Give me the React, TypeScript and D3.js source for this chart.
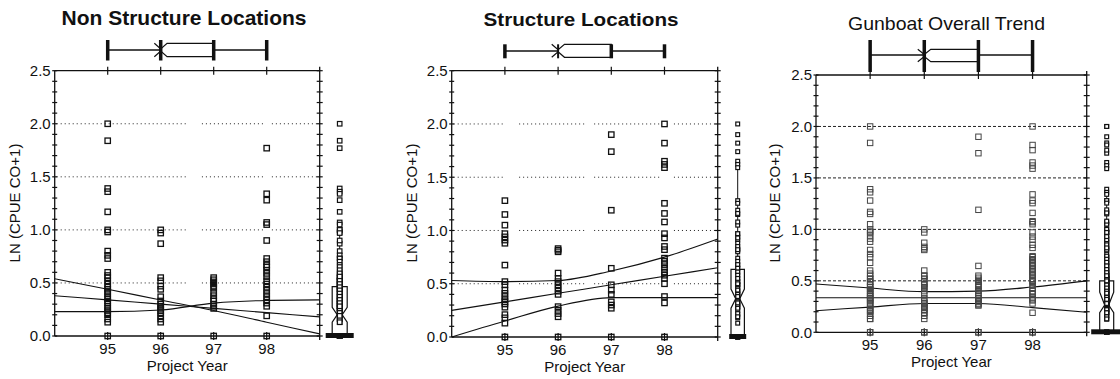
import React from "react";
import * as d3 from "d3";

// ---------- DATA ----------
const YEARS = [95, 96, 97, 98];
const TREND_YEARS = [94, 95, 96, 97, 98, 99];
const Y_TICKS = [0, 0.5, 1, 1.5, 2, 2.5];
const GRID_VALUES = [0.5, 1, 1.5, 2];

// Non Structure Locations: LN(CPUE CO+1) per project year
const ns95 = [2.0, 1.84, 1.39, 1.36, 1.17, 1.0, 0.98, 0.8, 0.76, 0.73, 0.6, 0.57, 0.55, 0.52, 0.49, 0.46, 0.44, 0.42, 0.4, 0.37, 0.35, 0.33, 0.31, 0.28, 0.26, 0.24, 0.22, 0.2, 0.16, 0.13, 0];
const ns96 = [1.0, 0.97, 0.87, 0.55, 0.52, 0.47, 0.44, 0.37, 0.33, 0.3, 0.28, 0.26, 0.24, 0.22, 0.19, 0.16, 0.13, 0];
const ns97 = [0.55, 0.53, 0.51, 0.49, 0.47, 0.45, 0.41, 0.38, 0.35, 0.33, 0.3, 0.28, 0.26, 0];
const ns98 = [1.77, 1.34, 1.28, 1.07, 1.05, 0.9, 0.73, 0.7, 0.67, 0.65, 0.62, 0.59, 0.56, 0.52, 0.49, 0.46, 0.43, 0.4, 0.37, 0.34, 0.31, 0.28, 0.19, 0];

// Structure Locations
const s95 = [1.28, 1.15, 1.05, 0.97, 0.94, 0.91, 0.88, 0.675, 0.52, 0.49, 0.44, 0.41, 0.38, 0.35, 0.33, 0.31, 0.28, 0.21, 0.18, 0.13, 0];
const s96 = [0.83, 0.815, 0.8, 0.6, 0.55, 0.52, 0.49, 0.46, 0.43, 0.4, 0.285, 0.25, 0.22, 0.19, 0];
const s97 = [1.9, 1.74, 1.19, 0.645, 0.49, 0.44, 0.4, 0.33, 0.3, 0.27, 0];
const s98 = [2.0, 1.82, 1.65, 1.62, 1.59, 1.255, 1.16, 1.08, 0.97, 0.93, 0.85, 0.82, 0.74, 0.71, 0.68, 0.645, 0.61, 0.58, 0.55, 0.5, 0.38, 0.32, 0];

// Gunboat overall = both groups together
const g95 = [...ns95, ...s95];
const g96 = [...ns96, ...s96];
const g97 = [...ns97, ...s97];
const g98 = [...ns98, ...s98];

// Trend lines (values at TREND_YEARS)
const nsLineA = [0.54, 0.44, 0.34, 0.24, 0.13, 0.02];
const nsLineB = [0.38, 0.34, 0.3, 0.26, 0.22, 0.18];
const nsLineC = [0.23, 0.23, 0.245, 0.31, 0.335, 0.34];
const sLineUpper = [0.53, 0.52, 0.53, 0.62, 0.75, 0.92];
const sLineMid = [0.25, 0.33, 0.41, 0.49, 0.57, 0.65];
const sLineLower = [0.0, 0.15, 0.29, 0.37, 0.37, 0.37];
const gLineUpper = [0.47, 0.43, 0.395, 0.4, 0.44, 0.5];
const gLineMid = [0.335, 0.335, 0.335, 0.335, 0.335, 0.335];
const gLineLower = [0.21, 0.245, 0.28, 0.28, 0.24, 0.195];

// Box plot of project years (top)
const yearBox = { low: 95, q1: 96, median: 96, q3: 97, high: 98, notch: 0.12 };
// Marginal box plots of LN(CPUE CO+1) (right)
const nsMarginal = { q3: 0.465, median: 0.2, notchLo: 0.13, notchHi: 0.27, whiskerTop: 1.0 };
const sMarginal = { q3: 0.635, median: 0.36, notchLo: 0.27, notchHi: 0.45, whiskerTop: 1.6 };
const gMarginal = { q3: 0.5, median: 0.265, notchLo: 0.19, notchHi: 0.39, whiskerTop: 1.35 };

// ---------- LAYOUT / STYLE ----------
const FONT = "'Liberation Sans', Arial, Helvetica, sans-serif";

const panels = [
  {
    title: "Non Structure Locations", titleX: 184, titleY: 25, titleSize: 21, titleLen: 245, titleWeight: "bold",
    left: 54.7, right: 319.7, top: 70.7, bottom: 336, yTitleX: 20,
    boxY: 50, capTop: 40, capBottom: 60.5, boxTop: 43.3, boxBottom: 56.7, medianBarW: 3.5,
    grid: "dotted", gaps: [[96.52, 96.74], [97.93, 98.06]],
    series: [ns95, ns96, ns97, ns98], lines: [nsLineA, nsLineB, nsLineC],
    marg: nsMarginal, margBoxHW: 7.5, margNotchHW: 2.5, margBarHW: 14, margSize: 4.5,
    pStroke: "#111", pWidth: 1.3,
  },
  {
    title: "Structure Locations", titleX: 581, titleY: 26, titleSize: 19, titleLen: 195, titleWeight: "bold",
    left: 451.7, right: 717.7, top: 70.7, bottom: 337, yTitleX: 417,
    boxY: 51, capTop: 44.3, capBottom: 58.3, boxTop: 44.3, boxBottom: 57.3, medianBarW: 2,
    grid: "dotted", gaps: [[94.96, 95.23], [96.52, 96.64], [97.92, 98.14]],
    series: [s95, s96, s97, s98], lines: [sLineUpper, sLineMid, sLineLower],
    marg: sMarginal, margBoxHW: 6.7, margNotchHW: 2, margBarHW: 8.5, margSize: 3.8,
    pStroke: "#111", pWidth: 1.3,
  },
  {
    title: "Gunboat Overall Trend", titleX: 946.5, titleY: 30, titleSize: 19, titleLen: 197, titleWeight: "normal",
    left: 816, right: 1086.7, top: 75, bottom: 332.3, yTitleX: 780,
    boxY: 55, capTop: 40, capBottom: 72, boxTop: 49.3, boxBottom: 61.7, medianBarW: 3.5,
    grid: "dashed", gaps: [] as number[][],
    series: [g95, g96, g97, g98], lines: [gLineUpper, gLineMid, gLineLower],
    marg: gMarginal, margBoxHW: 7, margNotchHW: 2, margBarHW: 15.5, margSize: 3.8,
    pStroke: "#444", pWidth: 1,
  },
];

function Panel({ p }: { p: any }) {
  const x = d3.scaleLinear().domain([94, 99]).range([p.left, p.right]);
  const y = d3.scaleLinear().domain([0, 2.5]).range([p.bottom, p.top]);
  const minor = y.ticks(25);
  const line = d3
    .line<number>()
    .x((_, i) => x(TREND_YEARS[i]))
    .y((d) => y(d))
    .curve(d3.curveMonotoneX);

  // grid segments
  const bounds: number[] = [94];
  p.gaps.forEach((g: number[]) => bounds.push(g[0], g[1]));
  bounds.push(99);
  const segs: number[][] = [];
  for (let i = 0; i < bounds.length; i += 2) segs.push([bounds[i], bounds[i + 1]]);

  const cx = p.right + 20;
  const m = p.marg;
  const margPath =
    `M${cx - p.margBoxHW},${y(m.q3)} L${cx + p.margBoxHW},${y(m.q3)} ` +
    `L${cx + p.margBoxHW},${y(m.notchHi)} L${cx + p.margNotchHW},${y(m.median)} ` +
    `L${cx + p.margBoxHW},${y(m.notchLo)} L${cx + p.margBoxHW},${y(0)} ` +
    `L${cx - p.margBoxHW},${y(0)} L${cx - p.margBoxHW},${y(m.notchLo)} ` +
    `L${cx - p.margNotchHW},${y(m.median)} L${cx - p.margBoxHW},${y(m.notchHi)} Z`;

  const b = yearBox;
  const ind = (p.boxBottom - p.boxTop) * 0.42;
  const topPath =
    `M${x(b.median - b.notch)},${p.boxTop} L${x(b.median)},${p.boxTop + ind} ` +
    `L${x(b.median + b.notch)},${p.boxTop} L${x(b.q3)},${p.boxTop} ` +
    `L${x(b.q3)},${p.boxBottom} L${x(b.median + b.notch)},${p.boxBottom} ` +
    `L${x(b.median)},${p.boxBottom - ind} L${x(b.median - b.notch)},${p.boxBottom}`;

  const allVals: number[] = [].concat(...p.series);
  const ms = p.margSize;

  return (
    <g>
      <text x={p.titleX} y={p.titleY} textAnchor="middle" fontSize={p.titleSize} fontFamily={FONT}
        fontWeight={p.titleWeight} textLength={p.titleLen} lengthAdjust="spacingAndGlyphs" fill="#111">{p.title}</text>

      {/* top box plot of years */}
      <line x1={x(b.low)} x2={x(b.q1)} y1={p.boxY} y2={p.boxY} stroke="#111" strokeWidth={1.3} />
      <line x1={x(b.q3)} x2={x(b.high)} y1={p.boxY} y2={p.boxY} stroke="#111" strokeWidth={1.3} />
      <path d={topPath} fill="none" stroke="#111" strokeWidth={1.2} />
      {[b.low, b.q3, b.high].map((v, i) => (
        <rect key={i} x={x(v) - 1.75} y={p.capTop} width={3.5} height={p.capBottom - p.capTop} fill="#111" />
      ))}
      <rect x={x(b.q1) - p.medianBarW / 2} y={p.capTop} width={p.medianBarW} height={p.capBottom - p.capTop} fill="#111" />

      {/* gridlines */}
      {GRID_VALUES.map((v) =>
        segs.map((s, i) => (
          <line key={v + "-" + i} x1={x(s[0]) + 2} x2={x(s[1])} y1={y(v)} y2={y(v)}
            stroke="#222" strokeWidth={1}
            strokeDasharray={p.grid === "dotted" ? "1,3" : "3,2"} />
        ))
      )}

      {/* axes frame */}
      <line x1={p.left} x2={p.right} y1={p.top} y2={p.top} stroke="#111" strokeWidth={1.3} />
      <line x1={p.left} x2={p.right} y1={p.bottom} y2={p.bottom} stroke="#111" strokeWidth={1.3} />
      <line x1={p.left} x2={p.left} y1={p.top} y2={p.bottom} stroke="#111" strokeWidth={1.3} />
      <line x1={p.right} x2={p.right} y1={p.top - 4} y2={p.bottom + 4} stroke="#111" strokeWidth={1.3} />
      {minor.map((v) => (
        <g key={v}>
          <line x1={p.left - 2.5} x2={p.left + 2.5} y1={y(v)} y2={y(v)} stroke="#111" strokeWidth={1.2} />
          <line x1={p.right - 3} x2={p.right + 3} y1={y(v)} y2={y(v)} stroke="#111" strokeWidth={1.2} />
        </g>
      ))}
      {YEARS.map((yr) => (
        <g key={yr}>
          <line x1={x(yr)} x2={x(yr)} y1={p.top - 4} y2={p.top + 4} stroke="#111" strokeWidth={1.2} />
          <line x1={x(yr)} x2={x(yr)} y1={p.bottom - 4} y2={p.bottom + 4} stroke="#111" strokeWidth={1.2} />
          <text x={x(yr)} y={p.bottom + 17.5} textAnchor="middle" fontSize={15} fontFamily={FONT} fill="#111">{yr}</text>
        </g>
      ))}
      {Y_TICKS.map((v) => (
        <text key={v} x={p.left - 4} y={y(v)} dy="0.36em" textAnchor="end" fontSize={15} fontFamily={FONT} fill="#111">
          {v.toFixed(1)}
        </text>
      ))}
      <text x={(p.left + p.right) / 2} y={p.bottom + 35} textAnchor="middle" fontSize={15} fontFamily={FONT} fill="#111">
        Project Year
      </text>
      <text transform={`translate(${p.yTitleX},${203}) rotate(-90)`} textAnchor="middle" fontSize={15} fontFamily={FONT} fill="#111">
        LN (CPUE CO+1)
      </text>

      {/* trend lines */}
      {p.lines.map((l: number[], i: number) => (
        <path key={i} d={line(l) as string} fill="none" stroke="#111" strokeWidth={1.1} />
      ))}

      {/* points */}
      {p.series.map((vals: number[], si: number) =>
        vals.map((v, i) => (
          <rect key={si + "-" + i} x={x(YEARS[si]) - 2.7} y={y(v) - 2.7} width={5.4} height={5.4}
            fill="none" stroke={p.pStroke} strokeWidth={p.pWidth} />
        ))
      )}

      {/* marginal box plot */}
      <line x1={cx} x2={cx} y1={y(m.q3)} y2={y(m.whiskerTop)} stroke="#111" strokeWidth={1} />
      <path d={margPath} fill="none" stroke="#111" strokeWidth={1.2} />
      {allVals.map((v, i) => (
        <rect key={"m" + i} x={cx - ms / 2} y={y(v) - ms / 2} width={ms} height={ms}
          fill="white" stroke="#111" strokeWidth={1.2} />
      ))}
      <rect x={cx - p.margBarHW} y={y(0) - 3} width={p.margBarHW * 2} height={5} fill="#111" />
    </g>
  );
}

export default function App() {
  return (
    <svg width={1120} height={379} style={{ position: "absolute", left: 0, top: 0, background: "white" }}>
      <rect width={1120} height={379} fill="white" />
      {panels.map((p, i) => (
        <Panel key={i} p={p} />
      ))}
    </svg>
  );
}
